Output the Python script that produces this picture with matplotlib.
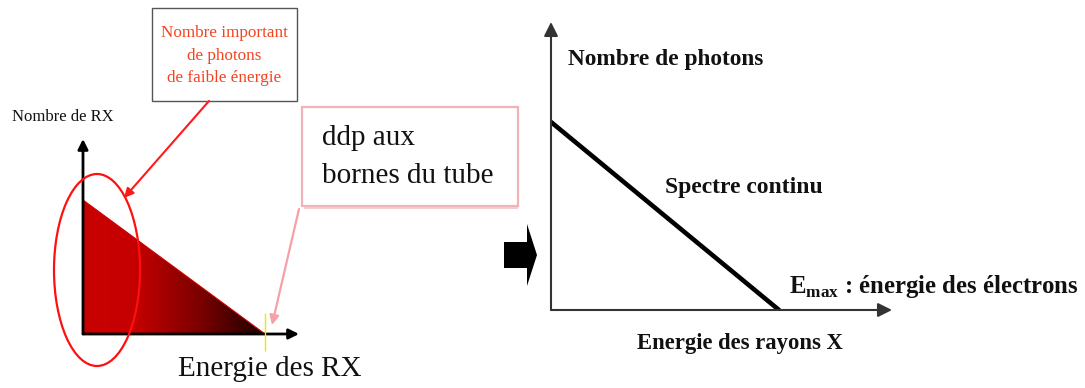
"""Spectre continu de rayons X : schema explicatif (deux panneaux)."""

import matplotlib

matplotlib.use("Agg")
import matplotlib.pyplot as plt
import numpy as np
from matplotlib.colors import LinearSegmentedColormap
from matplotlib.patches import Ellipse, Polygon, Rectangle

# spectre de freinage idealise : energie relative E/Emax et nombre de photons
spectrum_energy = [0.0, 1.0]
spectrum_counts = [1.0, 0.0]

left_xlabel = "Energie des RX"
left_ylabel = "Nombre de RX"
callout_low = ["Nombre important", "de photons", "de faible énergie"]
callout_ddp = ["ddp aux", "bornes du tube"]
right_ylabel = "Nombre de photons"
right_xlabel = "Energie des rayons X"
right_curve_label = "Spectre continu"
right_emax_label = r"$\mathbf{E}_{\mathbf{max}}$ : énergie des électrons"

W, H = 1085, 388
plt.rcParams["font.family"] = ["Liberation Serif", "DejaVu Serif"]
plt.rcParams["mathtext.fontset"] = "custom"
plt.rcParams["mathtext.rm"] = "Liberation Serif"
plt.rcParams["mathtext.bf"] = "Liberation Serif:bold"

fig = plt.figure(figsize=(W / 100, H / 100), dpi=100)


def axes_px(x0, y0, x1, y1):
    """Axes placed with pixel corners (top-left origin)."""
    ax = fig.add_axes([x0 / W, 1 - y1 / H, (x1 - x0) / W, (y1 - y0) / H])
    ax.set_axis_off()
    return ax


def draw_arrow_axes(ax, xmax, ymax, lw, color, ms):
    kw = dict(arrowstyle="-|>", lw=lw, color=color, mutation_scale=ms,
              shrinkA=0, shrinkB=0)
    ax.annotate("", xy=(xmax, 0), xytext=(0, 0), arrowprops=kw,
                annotation_clip=False)
    ax.annotate("", xy=(0, ymax), xytext=(0, 0), arrowprops=kw,
                annotation_clip=False)


# ---- panneau gauche -------------------------------------------------------
# E=0 -> x=83 px, E=Emax -> x=265 px ; N=0 -> y=334 px, N=1 -> y=200 px
sx, sy = 182.0, 134.0
lx_max, ly_max = (299 - 83) / sx, (334 - 139) / sy
axl = axes_px(83, 139, 299, 334)
axl.set_xlim(0, lx_max)
axl.set_ylim(0, ly_max)

cmap = LinearSegmentedColormap.from_list(
    "rx", [(0.0, "#c80000"), (0.28, "#c60000"), (0.65, "#7a0000"), (1.0, "#1a0000")]
)
tri = axl.fill_between(spectrum_energy, spectrum_counts, 0, color="none", lw=0)
grad = np.linspace(0, 1, 256).reshape(1, -1)
img = axl.imshow(grad, cmap=cmap, aspect="auto",
                 extent=(spectrum_energy[0], spectrum_energy[-1], 0, max(spectrum_counts)),
                 zorder=2)
img.set_clip_path(tri.get_paths()[0], transform=axl.transData)
axl.plot(spectrum_energy, spectrum_counts, color="#d00000", lw=0.8, zorder=3)
draw_arrow_axes(axl, lx_max, ly_max, lw=2.0, color="black", ms=15)
axl.vlines(spectrum_energy[-1], -0.13, 0.16, color="#f2e600", lw=1.0,
           clip_on=False, zorder=4)

# ---- panneau droit --------------------------------------------------------
# E=0 -> x=551 px, E=Emax -> x=779 px ; N=0 -> y=310 px, N=1 -> y=122 px
rsx, rsy = 228.0, 188.0
rx_max, ry_max = (892 - 551) / rsx, (310 - 22) / rsy
axr = axes_px(551, 22, 892, 310)
axr.set_xlim(0, rx_max)
axr.set_ylim(0, ry_max)
axr.plot(spectrum_energy, spectrum_counts, color="black", lw=3.3,
         solid_capstyle="round", zorder=3)
draw_arrow_axes(axr, rx_max, ry_max, lw=1.5, color="#333333", ms=21)

# ---- calque d'annotations en pixels ---------------------------------------
ov = fig.add_axes([0, 0, 1, 1], zorder=10)
ov.set_xlim(0, W)
ov.set_ylim(H, 0)
ov.set_axis_off()
ov.patch.set_alpha(0)

ov.text(12, 117, left_ylabel, fontsize=12, ha="left", va="center", color="#111111")
ov.text(270, 369, left_xlabel, fontsize=21, ha="center", va="center", color="#111111")

ov.add_patch(Ellipse((97, 270), 86, 192, fill=False, ec="#ff1010", lw=1.6))

# encadre "Nombre important..."
ov.add_patch(Rectangle((152, 8), 145, 93, fc="white", ec="#555555", lw=1.0))
for txt, yy in zip(callout_low, [33, 56, 78]):
    ov.text(224, yy, txt, fontsize=12.3, color="#f4431f", ha="center", va="center")
ov.annotate("", xy=(124, 198), xytext=(209, 101),
            arrowprops=dict(arrowstyle="-|>", color="#ff1a1a", lw=1.5,
                            mutation_scale=14, shrinkA=0, shrinkB=0))

# encadre "ddp aux bornes du tube"
ov.add_patch(Rectangle((304, 110), 214, 99, fc="#f7cccc", ec="none"))
ov.add_patch(Rectangle((302, 107), 216, 99, fc="white", ec="#f0b4b8", lw=1.6))
for txt, yy in zip(callout_ddp, [138, 176]):
    ov.text(322, yy, txt, fontsize=21, color="#111111", ha="left", va="center")
ov.annotate("", xy=(272, 325), xytext=(299, 209),
            arrowprops=dict(arrowstyle="-|>", color="#f7a0a8", lw=1.6,
                            mutation_scale=14, shrinkA=0, shrinkB=0))

# fleche pleine entre les deux schemas
ov.add_patch(Polygon([(504, 242), (527, 242), (527, 224), (537, 255),
                      (527, 286), (527, 268), (504, 268)],
                     closed=True, fc="black", ec="none"))

# textes du panneau droit
bold = dict(fontweight="bold", color="#111111", va="center")
ov.text(568, 60, right_ylabel, fontsize=16.8, ha="left", **bold)
ov.text(665, 187, right_curve_label, fontsize=17, ha="left", **bold)
ov.text(789, 287, right_emax_label, fontsize=17.8, ha="left", **bold)
ov.text(740, 344, right_xlabel, fontsize=16.3, ha="center", **bold)

fig.savefig("out.png", dpi=100)
